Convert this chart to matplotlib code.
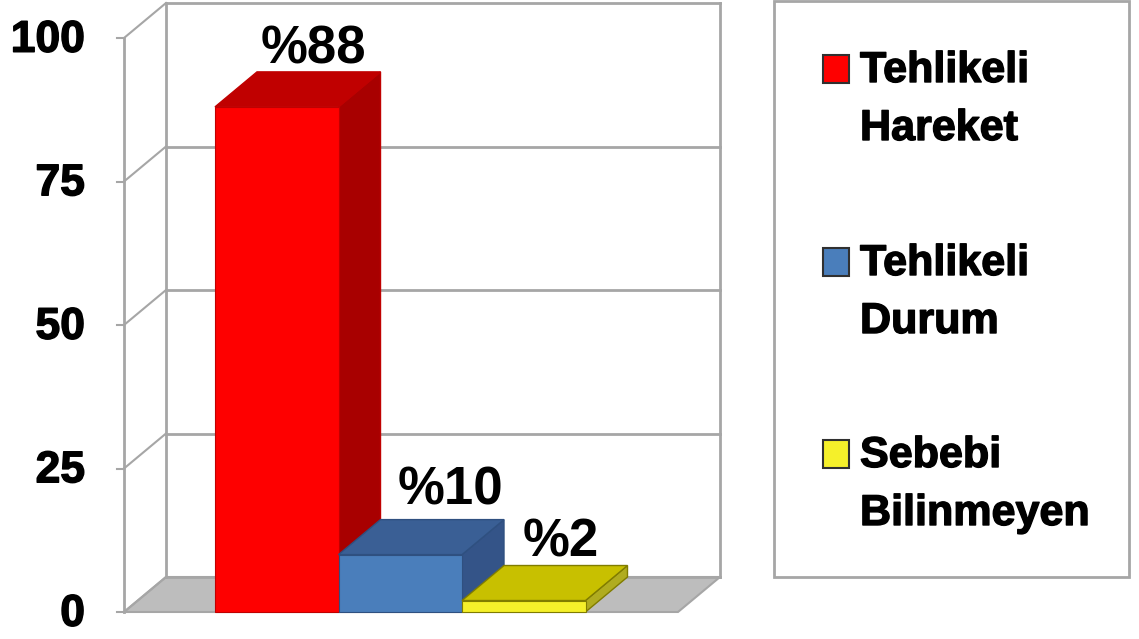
#!/usr/bin/env python3

import matplotlib
matplotlib.use('Agg')
import matplotlib.pyplot as plt
import matplotlib.patheffects as pe
from matplotlib.patches import Polygon, Rectangle

# data
values = [88, 10, 2]
labels = ['%88', '%10', '%2']
ticks = [0, 25, 50, 75, 100]
legend_names = ['Tehlikeli\nHareket', 'Tehlikeli\nDurum', 'Sebebi\nBilinmeyen']

front_colors = ['#FE0000', '#4A7EBB', '#F5F02A']
top_colors = ['#C00000', '#3A5F95', '#C8C000']
side_colors = ['#A80000', '#345488', '#B0AC20']
edge_colors = ['#C00000', '#2F5080', '#807C00']

plt.rcParams['font.family'] = ['Liberation Sans', 'DejaVu Sans']

W, H = 1139, 639
fig = plt.figure(figsize=(W / 100, H / 100), dpi=100)

# the source text is heavy and a bit smeared, a thin stroke gets close
heavy = [pe.withStroke(linewidth=1.0, foreground='black')]

# y axis runs in chart units, 0 at pixel 612 and 100 at pixel 38, x in pixels
PX_PER_UNIT = 5.74
Y0_PX = 612
ax = fig.add_axes([0, 0, 1, 1])
ax.set_xlim(0, W)
ax.set_ylim(-(H - Y0_PX) / PX_PER_UNIT, Y0_PX / PX_PER_UNIT)
ax.axis('off')

DX = 42
DY = 35 / PX_PER_UNIT
WALL_L = 124
WALL_W = 554
GREY = '#A6A6A6'

# floor
ax.add_patch(Polygon([(WALL_L, 0), (WALL_L + WALL_W, 0), (WALL_L + WALL_W + DX, DY), (WALL_L + DX, DY)],
                     closed=True, fc='#BDBDBD', ec=GREY, lw=1.5, zorder=1))

# walls and grid
ax.plot([WALL_L, WALL_L], [0, 100], color=GREY, lw=2, zorder=2)
ax.plot([WALL_L + DX, WALL_L + DX], [DY, 100 + DY], color=GREY, lw=2, zorder=2)
ax.plot([WALL_L + WALL_W + DX] * 2, [DY, 100 + DY], color=GREY, lw=2, zorder=2)
for t in ticks:
    ax.plot([WALL_L, WALL_L + DX], [t, t + DY], color=GREY, lw=1.5, zorder=2)
    ax.plot([WALL_L + DX, WALL_L + WALL_W + DX], [t + DY, t + DY], color=GREY, lw=2, zorder=2)
    ax.plot([WALL_L - 7, WALL_L], [t, t], color=GREY, lw=1.5, zorder=2)
    ax.text(85, t - 0.4, str(t), ha='right', va='center', fontsize=32, fontweight='bold',
            color='black', path_effects=heavy)

# bars, drawn back to front from the left
BAR_L = 215
BAR_W = 123.5
label_pos = [(313, -0.5), (450, 0.7), (561, -0.3)]
for i, v in enumerate(values):
    x = BAR_L + i * BAR_W
    ax.add_patch(Polygon([(x + BAR_W, 0), (x + BAR_W + DX, DY), (x + BAR_W + DX, v + DY), (x + BAR_W, v)],
                         closed=True, fc=side_colors[i], ec=edge_colors[i], lw=1, zorder=3 + i))
    ax.add_patch(Polygon([(x, v), (x + BAR_W, v), (x + BAR_W + DX, v + DY), (x + DX, v + DY)],
                         closed=True, fc=top_colors[i], ec=edge_colors[i], lw=1, zorder=3 + i))
    ax.add_patch(Rectangle((x, 0), BAR_W, v, fc=front_colors[i], ec=edge_colors[i], lw=0.8, zorder=3 + i))
    ax.text(label_pos[i][0], v + DY + label_pos[i][1], labels[i], ha='center', va='bottom',
            fontsize=38, fontweight='bold', color='black', zorder=10)

# legend panel, placed in pixels
px = fig.add_axes([0, 0, 1, 1])
px.set_xlim(0, W)
px.set_ylim(H, 0)
px.axis('off')
px.patch.set_alpha(0)
px.add_patch(Rectangle((774, 1), 355, 576, fc='white', ec=GREY, lw=2))
legend_y = [69, 262, 454]
for name, fc, y in zip(legend_names, front_colors, legend_y):
    px.add_patch(Rectangle((823, y - 14), 26, 28, fc=fc, ec='#303030', lw=1.5))
    first, second = name.split('\n')
    px.text(860, y + 13, first, ha='left', va='baseline', fontsize=31, fontweight='bold',
            color='black', path_effects=heavy)
    px.text(860, y + 71, second, ha='left', va='baseline', fontsize=31, fontweight='bold',
            color='black', path_effects=heavy)

fig.savefig('out.png', dpi=100, facecolor='white')
